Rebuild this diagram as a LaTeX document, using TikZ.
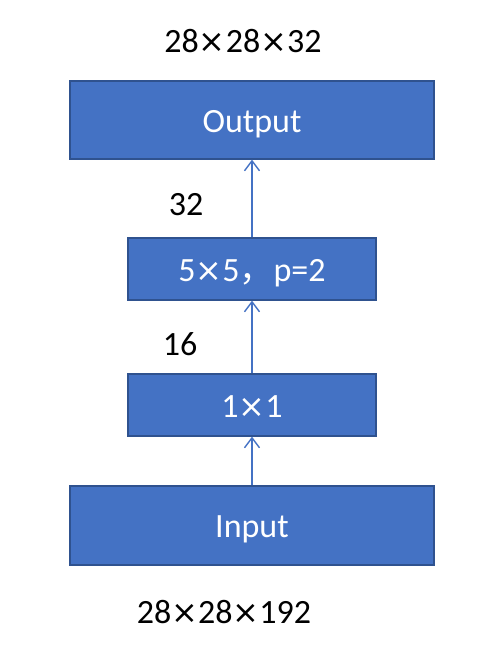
\documentclass[tikz,border=0pt]{standalone}
\usepackage{fontspec}
\setmainfont{Carlito}
\newfontfamily\cjk{Noto Sans CJK SC}
\newfontfamily\djv{DejaVu Sans}
\newcommand{\mulx}{{\djv\fontsize{32}{38}\selectfont ×}}
\newcommand{\boxtxt}[1]{\raisebox{-12pt}[0pt][0pt]{#1}}
\usetikzlibrary{arrows.meta}
\definecolor{boxfill}{HTML}{4472C4}
\definecolor{boxline}{HTML}{2F528F}
\tikzset{
  blk/.style={draw=boxline, line width=1.3pt, fill=boxfill, text=white, inner sep=0pt, font=\fontsize{34}{40}\selectfont},
  lbl/.style={text=black, inner sep=0pt, font=\fontsize{34}{40}\selectfont},
  conn/.style={draw=boxfill, line width=1.4pt, -{Straight Barb[length=10pt,width=15pt,line width=1.4pt]}}
}
\begin{document}
\begin{tikzpicture}[x=1pt,y=-1pt]
\useasboundingbox (0,0) rectangle (492,672);
\node[blk, minimum width=364pt, minimum height=78pt] (out) at (252,120) {\boxtxt{Output}};
\node[blk, minimum width=248pt, minimum height=62pt] (c5) at (252,269) {\boxtxt{5\mulx 5{\cjk ，}p=2}};
\node[blk, minimum width=248pt, minimum height=62pt] (c1) at (252,405) {\boxtxt{1\mulx 1}};
\node[blk, minimum width=364pt, minimum height=79pt] (in) at (252,525.5) {\boxtxt{Input}};
\node[lbl] (t1) at (243,41) {28\mulx 28\mulx 32};
\node[lbl] (t2) at (186,205) {32};
\node[lbl] (t3) at (180,344) {16};
\node[lbl] (t4) at (224,612) {28\mulx 28\mulx 192};
\draw[conn] (in.north) -- (c1.south);
\draw[conn] (c1.north) -- (c5.south);
\draw[conn] (c5.north) -- (out.south);
\end{tikzpicture}
\end{document}
